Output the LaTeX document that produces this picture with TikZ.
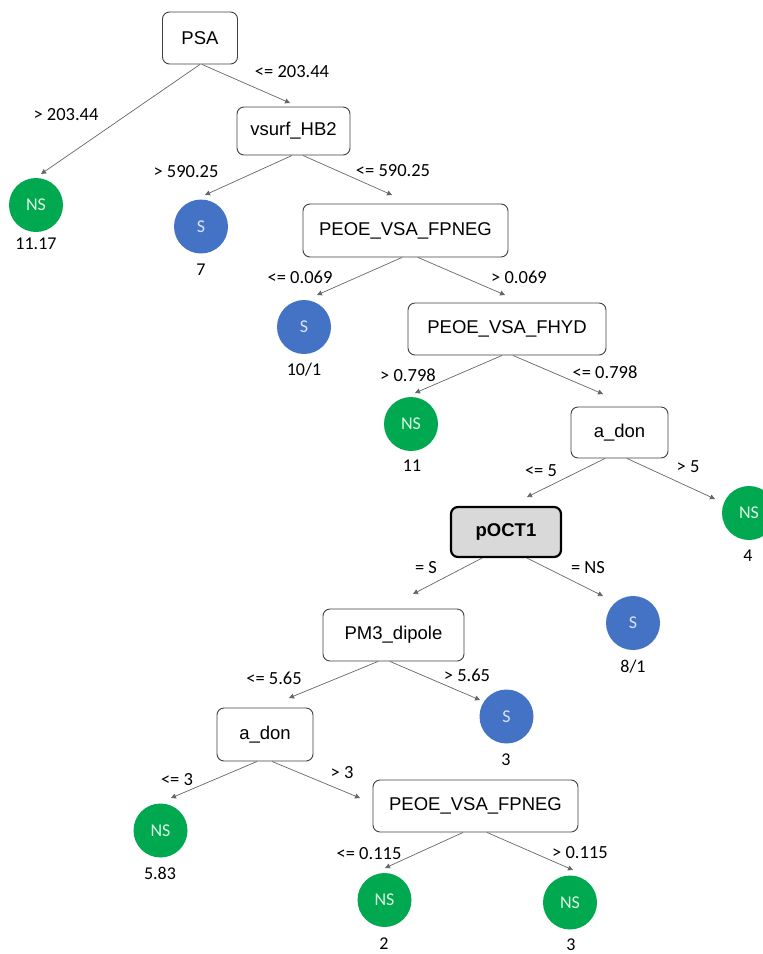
\documentclass[tikz,border=0pt]{standalone}
\usepackage{fontspec}
\setmainfont{Carlito}
\newfontfamily\arialfont{Liberation Sans}
\usepackage{xcolor}
\usepackage{tikz}
\usetikzlibrary{arrows.meta,calc}
\definecolor{leafgreen}{RGB}{0,168,80}
\definecolor{leafblue}{RGB}{68,114,196}
\definecolor{nstext}{RGB}{222,245,228}
\definecolor{stext}{RGB}{218,228,248}
\tikzset{splitbox/.style={rectangle, rounded corners=7pt, draw=black!75, line width=0.9pt, fill=white, inner sep=0pt, minimum height=52pt, font=\arialfont\fontsize{18.5}{22}\selectfont}, keybox/.style={splitbox, draw=black, line width=2.2pt, fill=black!15, font=\arialfont\bfseries\fontsize{18.5}{22}\selectfont}, leafns/.style={circle, fill=leafgreen, minimum size=54pt, inner sep=0pt, text=nstext, font=\fontsize{18}{20}\selectfont}, leafs/.style={circle, fill=leafblue, minimum size=54pt, inner sep=0pt, text=stext, font=\fontsize{18}{20}\selectfont}, cond/.style={font=\fontsize{18.5}{21}\selectfont, inner sep=0pt}, count/.style={font=\fontsize{18}{20}\selectfont, inner sep=0pt}, edge/.style={-{Triangle[length=5pt,width=5pt]}, line width=0.7pt, draw=black!60}}

\begin{document}
\begin{tikzpicture}[x=1pt, y=1pt]
\useasboundingbox (0,0) rectangle (763,-954);
\node[splitbox, minimum width=75pt] (psa) at (200,-38) {PSA};
\node[splitbox, minimum width=113pt, minimum height=48pt] (vsurf) at (293.5,-131) {vsurf\_HB2};
\node[splitbox, minimum width=205pt, minimum height=53pt] (fpneg) at (405.5,-230.5) {PEOE\_VSA\_FPNEG};
\node[splitbox, minimum width=198pt] (fhyd) at (507,-329) {PEOE\_VSA\_FHYD};
\node[splitbox, minimum width=97pt, minimum height=51pt] (adon) at (619.5,-432.5) {a\_don};
\node[keybox, minimum width=110pt, minimum height=50pt] (poct) at (506,-532) {pOCT1};
\node[splitbox, minimum width=141pt] (pmdip) at (393.5,-635) {PM3\_dipole};
\node[splitbox, minimum width=96pt, minimum height=53pt] (adonb) at (265,-734.5) {a\_don};
\node[splitbox, minimum width=205pt] (fpnegb) at (475.5,-806) {PEOE\_VSA\_FPNEG};
\node[leafns] (nsa) at (36,-205) {NS};
\node[leafs] (sa) at (201,-226.5) {S};
\node[leafs] (sb) at (304,-327) {S};
\node[leafns] (nsb) at (411,-424) {NS};
\node[leafns] (nsc) at (749,-513) {NS};
\node[leafs] (sc) at (633,-623) {S};
\node[leafs] (sd) at (506.5,-716.5) {S};
\node[leafns] (nsd) at (160.5,-830.5) {NS};
\node[leafns] (nse) at (384.5,-900) {NS};
\node[leafns] (nsf) at (570,-902.5) {NS};
% connectors: parent, start shift, child, tip shift from child centre
\foreach \p/\sx/\c/\tx/\ty in {psa/0/nsa/5/31, psa/2/vsurf/-3.5/28, vsurf/-1.5/sa/4/31.5, vsurf/9.5/fpneg/-13.5/35.5, fpneg/-3.5/sb/13/32, fpneg/12.5/fhyd/-2/34, fhyd/-5/nsb/4/31, fhyd/6/adon/-16.5/38.5, adon/-14.5/poct/21/35, adon/7.5/nsc/-34/14, poct/-24/pmdip/19.5/41, poct/21/sc/-30/27, pmdip/-15.5/adonb/24/36.5, pmdip/-3.5/sd/-26.5/16.5, adonb/-8/nsd/10.5/32.5, adonb/7/fpnegb/-115.5/8, fpnegb/-12.5/nse/0.5/32, fpnegb/11.5/nsf/3/32.5} {\draw[edge] ($(\p.south)+(\sx,0)$) -- ($(\c)+(\tx,\ty)$);}
\foreach \n/\x/\y/\t in {ca/66/115/{> 203.44}, cb/292/72/{<= 203.44}, cc/186/172/{> 590.25}, cd/393/171/{<= 590.25}, ce/300/277/{<= 0.069}, cf/519/277/{> 0.069}, cg/408/375/{> 0.798}, ch/605/372/{<= 0.798}, ci/541/471/{<= 5}, cj/688/467/{> 5}, ck/426/568/{= S}, cl/588/568/{= NS}, cm/274/678/{<= 5.65}, cn/467/675/{> 5.65}, co/177/780/{<= 3}, cp/342/773/{> 3}, cq/369/854/{<= 0.115}, cr/580/853/{> 0.115}} {\node[cond] (\n) at (\x,-\y) {\t};}
\foreach \n/\x/\y/\t in {na/36/244/{11.17}, nb/201/270/{7}, nc/304/370/{10/1}, nd/412/466/{11}, ne/748/556/{4}, nf/633/667/{8/1}, ng/506/760/{3}, nh/160/873/{5.83}, ni/384/944/{2}, nj/571/945/{3}} {\node[count] (\n) at (\x,-\y) {\t};}
\end{tikzpicture}
\end{document}
